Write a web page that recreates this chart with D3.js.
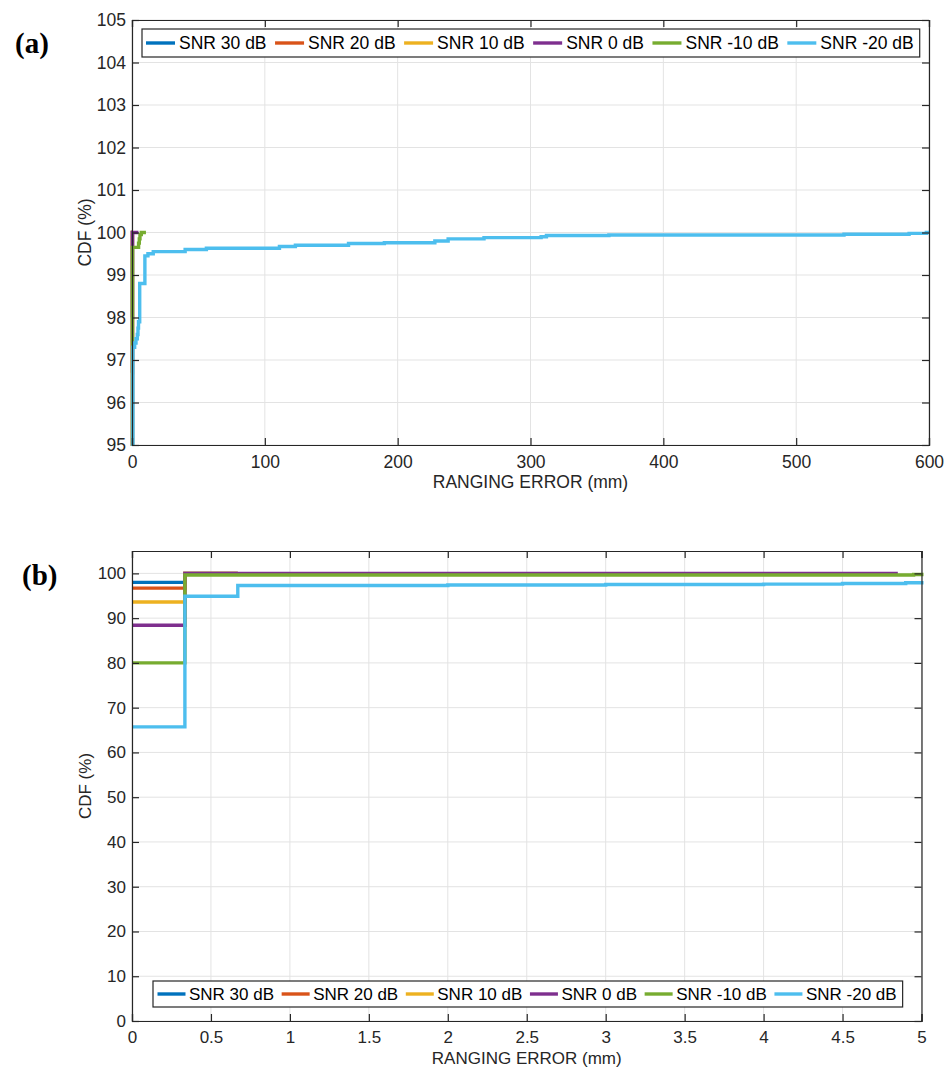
<!DOCTYPE html>
<html>
<head>
<meta charset="utf-8">
<script src="https://cdn.jsdelivr.net/npm/d3@7"></script>
<style>
  html, body { margin: 0; padding: 0; background: #fff; }
  svg { display: block; font-family: "Liberation Sans", Arial, Helvetica, sans-serif; }
</style>
</head>
<body>
<svg id="chart" width="952" height="1069"></svg>
<script>
// ---------------- DATA ----------------
const seriesNames = ["SNR 30 dB", "SNR 20 dB", "SNR 10 dB", "SNR 0 dB", "SNR -10 dB", "SNR -20 dB"];
const seriesColors = ["#0072BD", "#D95319", "#EDB120", "#7E2F8E", "#77AC30", "#4DBEEE"];

// ranging error (mm) where each step begins, and CDF (%) from that point on
const errSNR30 = [0, 0.335];
const cdfSNR30 = [98.0, 100];
const endSNR30 = 0.67;

const errSNR20 = [0, 0.335];
const cdfSNR20 = [96.7, 100];
const endSNR20 = 0.67;

const errSNR10 = [0, 0.335];
const cdfSNR10 = [93.6, 100];
const endSNR10 = 0.67;

const errSNR0 = [0, 0.335];
const cdfSNR0 = [88.4, 100];
const endSNR0 = 4.85;

const errSNRm10 = [0, 0.335, 4.95, 5.5, 6.0, 7.0];
const cdfSNRm10 = [80.0, 99.65, 99.75, 99.85, 99.95, 100];
const endSNRm10 = 10.5;

const errSNRm20 = [0, 0.335, 0.67, 2.0, 3.0, 4.0, 4.5, 4.9, 5.8, 9.7, 12, 16, 40, 56, 111, 123, 163, 190, 228, 238, 265, 308, 312, 359, 536, 585, 598];
const cdfSNRm20 = [65.7, 94.9, 97.3, 97.4, 97.5, 97.6, 97.75, 97.9, 98.8, 99.45, 99.5, 99.55, 99.6, 99.63, 99.67, 99.7, 99.74, 99.76, 99.8, 99.85, 99.88, 99.9, 99.93, 99.94, 99.96, 99.98, 100];
const endSNRm20 = 600;

const seriesErr = [errSNR30, errSNR20, errSNR10, errSNR0, errSNRm10, errSNRm20];
const seriesCdf = [cdfSNR30, cdfSNR20, cdfSNR10, cdfSNR0, cdfSNRm10, cdfSNRm20];
const seriesEnd = [endSNR30, endSNR20, endSNR10, endSNR0, endSNRm10, endSNRm20];

// ticks
const xTicksA = [0, 100, 200, 300, 400, 500, 600];
const yTicksA = [95, 96, 97, 98, 99, 100, 101, 102, 103, 104, 105];
const xTicksB = [0, 0.5, 1, 1.5, 2, 2.5, 3, 3.5, 4, 4.5, 5];
const yTicksB = [0, 10, 20, 30, 40, 50, 60, 70, 80, 90, 100];

const xLabel = "RANGING ERROR (mm)";
const yLabel = "CDF (%)";

// ---------------- DRAW ----------------
const svg = d3.select("#chart");
const SANS = '"Liberation Sans", Arial, Helvetica, sans-serif';
const SERIF = '"Liberation Serif", "DejaVu Serif", "Times New Roman", serif';

function panel(cfg) {
  const FS = cfg.fs;
  const g = svg.append("g");
  const x = d3.scaleLinear().domain(cfg.xDomain).range([cfg.left, cfg.right]);
  const y = d3.scaleLinear().domain(cfg.yDomain).range([cfg.bottom, cfg.top]);

  // grid
  g.append("g").selectAll("line").data(cfg.xTicks).join("line")
    .attr("x1", d => x(d)).attr("x2", d => x(d))
    .attr("y1", cfg.top).attr("y2", cfg.bottom)
    .attr("stroke", "#e3e3e3").attr("stroke-width", 1);
  g.append("g").selectAll("line").data(cfg.yTicks).join("line")
    .attr("x1", cfg.left).attr("x2", cfg.right)
    .attr("y1", d => y(d)).attr("y2", d => y(d))
    .attr("stroke", "#e3e3e3").attr("stroke-width", 1);

  // clip
  const clipId = "clip" + cfg.id;
  svg.append("clipPath").attr("id", clipId).append("rect")
    .attr("x", cfg.left - 2).attr("y", cfg.top - 2)
    .attr("width", cfg.right - cfg.left + 4).attr("height", cfg.bottom - cfg.top + 3);

  const line = d3.line().x(d => x(d[0])).y(d => y(d[1])).curve(d3.curveStepAfter);
  const lg = g.append("g").attr("clip-path", `url(#${clipId})`);
  seriesNames.forEach((name, i) => {
    const pts = seriesErr[i].map((e, k) => [e, seriesCdf[i][k]]);
    pts.push([seriesEnd[i], seriesCdf[i][seriesCdf[i].length - 1]]);
    lg.append("path").datum(pts)
      .attr("d", line)
      .attr("fill", "none")
      .attr("stroke", seriesColors[i])
      .attr("stroke-width", 3.4)
      .attr("stroke-linejoin", "miter");
  });

  // axes (ticks inward, box)
  const tl = 7;
  const axB = d3.axisBottom(x).tickValues(cfg.xTicks).tickSize(-tl).tickPadding(10).tickFormat(d3.format("~g"));
  const axT = d3.axisTop(x).tickValues(cfg.xTicks).tickSize(-tl).tickFormat("");
  const axL = d3.axisLeft(y).tickValues(cfg.yTicks).tickSize(-tl).tickPadding(6).tickFormat(d3.format("~g"));
  const axR = d3.axisRight(y).tickValues(cfg.yTicks).tickSize(-tl).tickFormat("");
  const style = sel => {
    sel.attr("font-size", null).attr("font-family", null);
    sel.selectAll("path.domain").attr("stroke", "#262626").attr("stroke-width", 1.2);
    sel.selectAll(".tick line").attr("stroke", "#262626").attr("stroke-width", 1.2);
    sel.selectAll(".tick text").attr("font-size", FS).attr("fill", "#262626").attr("font-family", SANS);
  };
  g.append("g").attr("transform", `translate(0,${cfg.bottom})`).call(axB).call(style)
    .selectAll(".tick text").attr("dy", "0.72em");
  g.append("g").attr("transform", `translate(0,${cfg.top})`).call(axT).call(style);
  g.append("g").attr("transform", `translate(${cfg.left},0)`).call(axL).call(style);
  g.append("g").attr("transform", `translate(${cfg.right},0)`).call(axR).call(style);

  // axis labels
  g.append("text").attr("x", (cfg.left + cfg.right) / 2).attr("y", cfg.bottom + 37)
    .attr("text-anchor", "middle").attr("dominant-baseline", "central")
    .attr("font-family", SANS).attr("fill", "#262626")
    .attr("font-size", FS).text(xLabel);
  g.append("text")
    .attr("transform", `translate(${cfg.yLabelX},${(cfg.top + cfg.bottom) / 2}) rotate(-90)`)
    .attr("text-anchor", "middle").attr("dominant-baseline", "central")
    .attr("font-family", SANS).attr("fill", "#262626")
    .attr("font-size", FS).text(yLabel);

  // panel letter
  g.append("text").attr("x", cfg.letterX).attr("y", cfg.letterY)
    .attr("font-family", SERIF)
    .attr("font-weight", "bold").attr("font-size", 29).attr("fill", "#000")
    .text("(" + cfg.letter + ")");

  // legend
  const leg = g.append("g");
  const box = leg.append("rect").attr("fill", "#fff").attr("stroke", "#262626").attr("stroke-width", 1.2);
  const L = cfg.leg;
  let cx = L.left + L.padL;
  const cy = (L.top + L.bottom) / 2;
  seriesNames.forEach((name, i) => {
    leg.append("line").attr("x1", cx).attr("x2", cx + L.sample).attr("y1", cy).attr("y2", cy)
      .attr("stroke", seriesColors[i]).attr("stroke-width", 3.4);
    const t = leg.append("text").attr("x", cx + L.sample + L.gapText).attr("y", cy)
      .attr("dominant-baseline", "central").attr("font-size", L.fs)
      .attr("font-family", SANS).attr("fill", "#000").text(name);
    cx = cx + L.sample + L.gapText + t.node().getComputedTextLength() + L.gapItem;
  });
  box.attr("x", L.left).attr("y", L.top)
    .attr("width", cx - L.gapItem + L.padR - L.left).attr("height", L.bottom - L.top);
}

panel({
  id: "A", letter: "a", letterX: 15, letterY: 53, fs: 17.5,
  left: 132, right: 929, top: 20, bottom: 445,
  xDomain: [0, 600], yDomain: [95, 105],
  xTicks: xTicksA, yTicks: yTicksA, yLabelX: 85,
  leg: { left: 142, top: 29, bottom: 57, fs: 17.5, sample: 29, gapText: 4, gapItem: 8.5, padL: 4, padR: 6 }
});

panel({
  id: "B", letter: "b", letterX: 22, letterY: 585, fs: 17,
  left: 132, right: 921.5, top: 551, bottom: 1021,
  xDomain: [0, 5], yDomain: [0, 105],
  xTicks: xTicksB, yTicks: yTicksB, yLabelX: 85,
  leg: { left: 153, top: 981, bottom: 1007, fs: 17, sample: 28, gapText: 3.5, gapItem: 7.6, padL: 4.5, padR: 6 }
});
</script>
</body>
</html>
